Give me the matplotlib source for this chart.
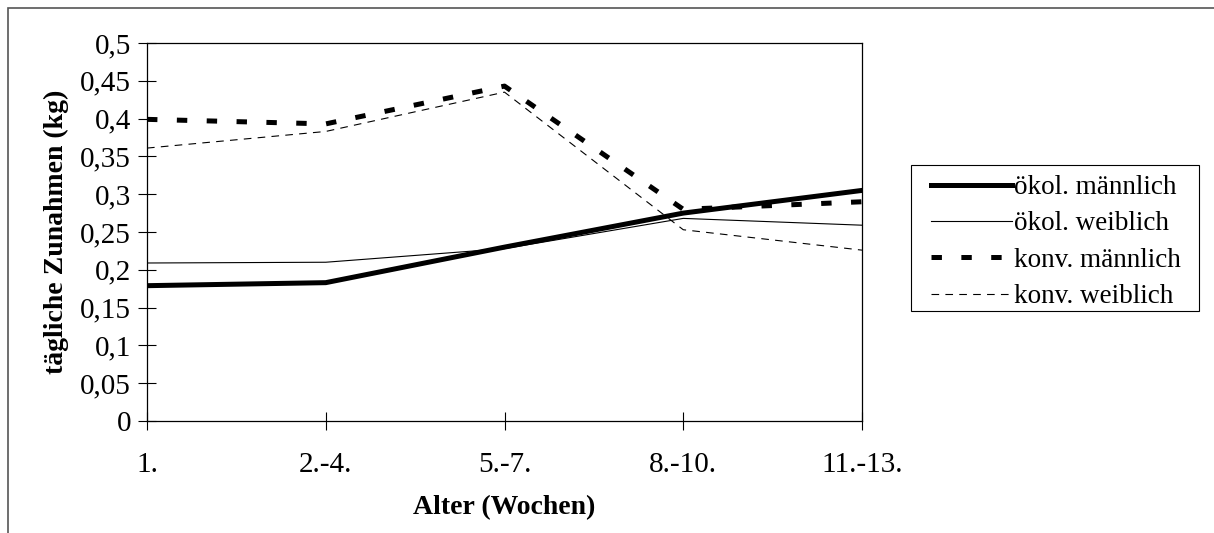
import matplotlib

matplotlib.use("Agg")
import matplotlib.pyplot as plt
from matplotlib.patches import Rectangle
from matplotlib.ticker import FuncFormatter

# daily weight gain (kg) per age class
age_classes = ["1.", "2.-4.", "5.-7.", "8.-10.", "11.-13."]
oeko_maennlich = [0.179, 0.183, 0.230, 0.275, 0.305]
oeko_weiblich = [0.209, 0.210, 0.228, 0.268, 0.259]
konv_maennlich = [0.399, 0.393, 0.443, 0.280, 0.290]
konv_weiblich = [0.361, 0.383, 0.435, 0.253, 0.226]
y_ticks = [0, 0.05, 0.1, 0.15, 0.2, 0.25, 0.3, 0.35, 0.4, 0.45, 0.5]

plt.rcParams["font.family"] = ["Liberation Serif", "DejaVu Serif"]
plt.rcParams["lines.scale_dashes"] = False

W, H, DPI = 1214, 533, 100
fig = plt.figure(figsize=(W / DPI, H / DPI), dpi=DPI)
ax = fig.add_axes([147 / W, 1 - 421 / H, (862 - 147) / W, (421 - 43) / H])

# outer chart border (runs off the right and bottom edges)
fig.patches.append(Rectangle((8 / W, -0.1), 1.2, 1 - 8 / H + 0.1,
                             transform=fig.transFigure, fill=False,
                             edgecolor="#555555", lw=1.2))

x = range(len(age_classes))
ax.plot(x, oeko_maennlich, color="black", lw=3.6, label="ökol. männlich")
ax.plot(x, oeko_weiblich, color="black", lw=0.8, label="ökol. weiblich")
ax.plot(x, konv_maennlich, color="black", lw=3.6, dashes=(7.5, 14),
        label="konv. männlich")
ax.plot(x, konv_weiblich, color="black", lw=0.8, dashes=(5.5, 4.5),
        label="konv. weiblich")

ax.set_xlim(0, len(age_classes) - 1)
ax.set_ylim(0, 0.5)
ax.set_xticks(list(x))
ax.set_xticklabels(age_classes)
ax.set_yticks(y_ticks)
ax.yaxis.set_major_formatter(
    FuncFormatter(lambda v, _: f"{v:g}".replace(".", ",")))

ax.tick_params(axis="both", direction="inout", length=13, width=0.8,
               labelsize=21)
ax.tick_params(axis="x", pad=16)
ax.tick_params(axis="y", pad=5)
for sp in ax.spines.values():
    sp.set_linewidth(0.9)

ax.set_ylabel("tägliche Zunahmen (kg)", fontsize=20, fontweight="bold",
              labelpad=8)
ax.set_xlabel("Alter (Wochen)", fontsize=20, fontweight="bold", labelpad=12)

# legend entries without frame; the box is drawn separately so that the
# horizontal padding can be wider than the vertical one
ax.legend(loc="upper left", bbox_to_anchor=(931 / W, 1 - 175 / H),
          bbox_transform=fig.transFigure, fontsize=19.5, frameon=False,
          handlelength=3.0, handletextpad=0.05, labelspacing=0.42,
          borderpad=0, borderaxespad=0)
fig.patches.append(Rectangle((911 / W, 1 - 311 / H), (1199 - 911) / W,
                             (311 - 165) / H, transform=fig.transFigure,
                             fill=False, edgecolor="black", lw=0.8))

fig.savefig("out.png", dpi=DPI)
